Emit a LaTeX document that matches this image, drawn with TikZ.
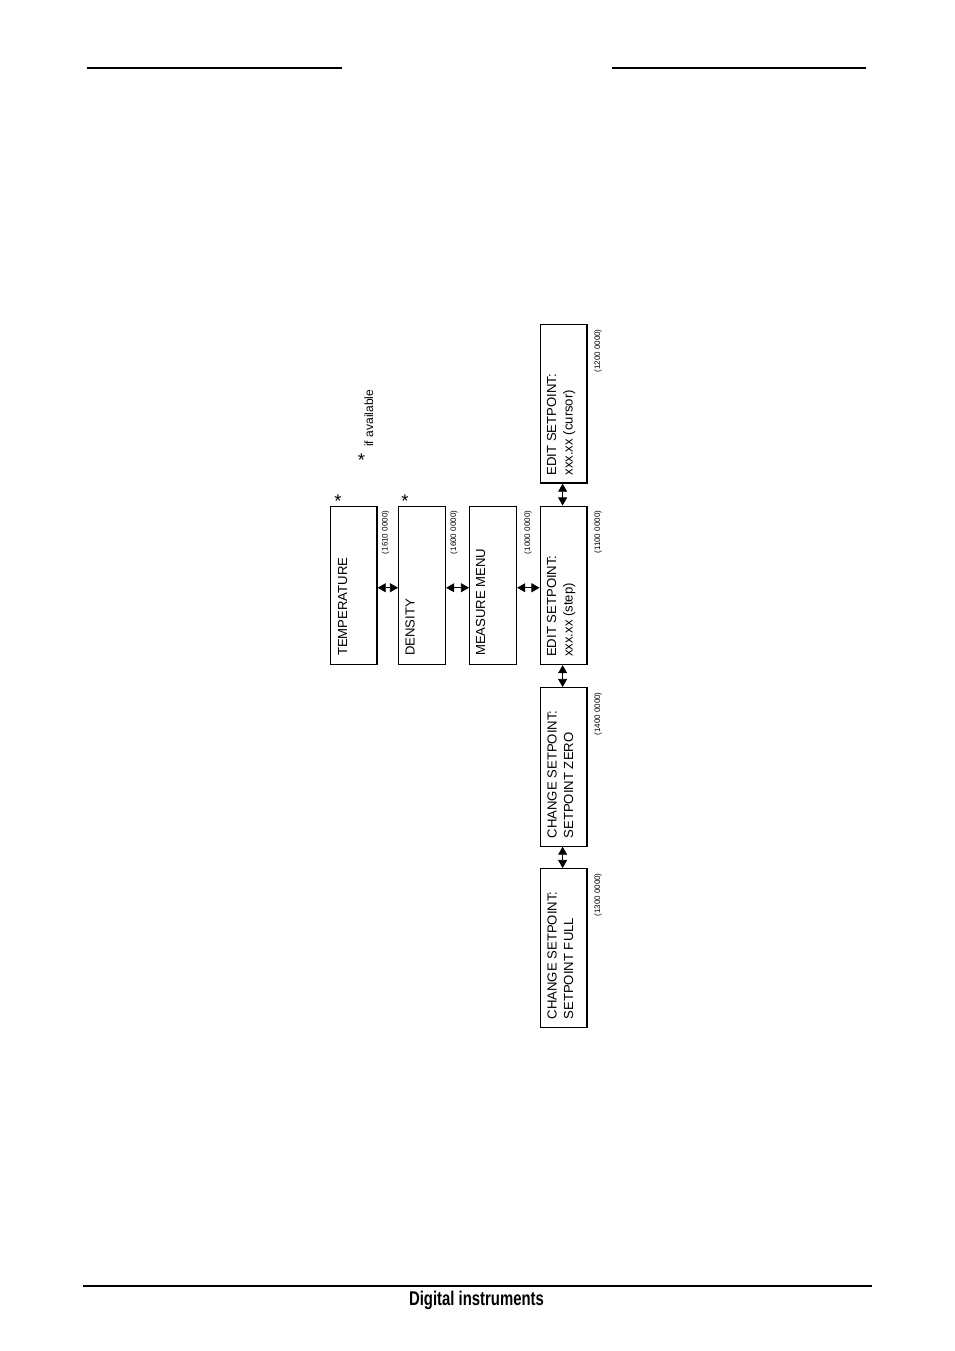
\documentclass[tikz,border=0pt]{standalone}
\usepackage{fontspec}
\setmainfont{Liberation Sans}
\usetikzlibrary{arrows.meta,calc}
\begin{document}
\begin{tikzpicture}[x=0.624pt,y=-0.624pt,
  menubox/.style={draw,line width=0.75pt,minimum width=29.3pt,minimum height=98.9pt,inner sep=0pt,anchor=north west},
  boxtext/.style={rotate=90,anchor=base west,inner sep=0pt,font=\fontsize{8.2}{10}\selectfont},
  code/.style={rotate=90,anchor=base east,inner sep=0pt,font=\fontsize{5}{6}\selectfont},
  starmark/.style={anchor=base,inner sep=0pt,font=\fontsize{11.5}{12}\selectfont},
  link/.style={{Triangle[length=5pt,width=5.6pt]}-{Triangle[length=5pt,width=5.6pt]},line width=0.4pt},
  rulex/.style={line width=0.9pt}]
\fill[white] (0,0) rectangle (954,1351);
\useasboundingbox (0,0) rectangle (954,1351);

% header and footer rules
\draw[rulex] (87,68) -- (342,68);
\draw[rulex] (612,68) -- (866,68);
\draw[line width=0.75pt] (83,1286) -- (872,1286);
\node[font=\bfseries\fontsize{12.4}{14}\selectfont,anchor=base,inner sep=0pt] (foot) at (476.5,1305) {\scalebox{0.75}[1]{Digital instruments}};

% boxes
\node[menubox] (temp)   at (329.5,505.5) {};
\node[menubox] (dens)   at (398,505.5) {};
\node[menubox] (meas)   at (469,505.5) {};
\node[menubox] (step)   at (539.5,505.5) {};
\node[menubox] (cursor) at (539.5,324) {};
\node[menubox] (zero)   at (539.5,687) {};
\node[menubox] (full)   at (539.5,868) {};

% box texts
\node[boxtext] (tempT)   at ($(temp.south west)+(17.5,-9)$) {TEMPERATURE};
\node[boxtext] (densT)   at ($(dens.south west)+(16.5,-9)$) {DENSITY};
\node[boxtext] (measT)   at ($(meas.south west)+(16,-9)$) {MEASURE MENU};
\node[boxtext] (stepT1)  at ($(step.south west)+(16.5,-8)$) {EDIT SETPOINT:};
\node[boxtext] (stepT2)  at ($(step.south west)+(33,-8)$) {xxx.xx (step)};
\node[boxtext] (curT1)   at ($(cursor.south west)+(16.5,-8)$) {EDIT SETPOINT:};
\node[boxtext] (curT2)   at ($(cursor.south west)+(33,-8)$) {xxx.xx (cursor)};
\node[boxtext] (zeroT1)  at ($(zero.south west)+(17,-8)$) {CHANGE SETPOINT:};
\node[boxtext] (zeroT2)  at ($(zero.south west)+(33.5,-8)$) {SETPOINT ZERO};
\node[boxtext] (fullT1)  at ($(full.south west)+(17,-8)$) {CHANGE SETPOINT:};
\node[boxtext] (fullT2)  at ($(full.south west)+(33.5,-8)$) {SETPOINT FULL};

% codes
\node[code] (tempC)   at ($(temp.north east)+(10,5)$) {(1610 0000)};
\node[code] (densC)   at ($(dens.north east)+(10,5)$) {(1600 0000)};
\node[code] (measC)   at ($(meas.north east)+(13,5)$) {(1000 0000)};
\node[code] (stepC)   at ($(step.north east)+(12.5,5)$) {(1100 0000)};
\node[code] (curC)    at ($(cursor.north east)+(12.5,5)$) {(1200 0000)};
\node[code] (zeroC)   at ($(zero.north east)+(12.5,5)$) {(1400 0000)};
\node[code] (fullC)   at ($(full.north east)+(12.5,5)$) {(1300 0000)};

% stars and note
\node[starmark] (tempS) at (338,507) {*};
\node[starmark] (densS) at (405,507) {*};
\node[starmark] (noteS) at (361.5,466) {*};
\node[rotate=90,anchor=base west,inner sep=0pt,font=\fontsize{7.5}{9}\selectfont] (note) at (373,447) {if available};

% connectors
\draw[link] ([yshift=-1.5pt]temp.east) -- ([yshift=-1.5pt]dens.west);
\draw[link] ([yshift=-1.5pt]dens.east) -- ([yshift=-1.5pt]meas.west);
\draw[link] ([yshift=-1.5pt]meas.east) -- ([yshift=-1.5pt]step.west);
\draw[link] ([xshift=-0.6pt]cursor.south) -- ([xshift=-0.6pt]step.north);
\draw[link] ([xshift=-0.6pt]step.south) -- ([xshift=-0.6pt]zero.north);
\draw[link] ([xshift=-0.6pt]zero.south) -- ([xshift=-0.6pt]full.north);
\end{tikzpicture}
\end{document}
